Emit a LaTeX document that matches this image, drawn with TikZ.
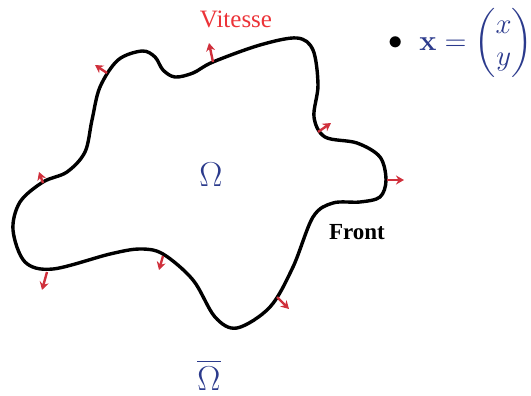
\documentclass[tikz,border=0pt]{standalone}
\usepackage[no-math]{fontspec}
\usepackage{amsmath}
\usepackage{tikz}
\usetikzlibrary{arrows.meta}
\newfontfamily\timesfont{Liberation Serif}
\definecolor{vblue}{HTML}{2B3A8C}
\definecolor{vred}{HTML}{EC3338}
\definecolor{vdark}{HTML}{D0303C}

\begin{document}
\begin{tikzpicture}[x=0.5pt, y=-0.5pt, every node/.style={inner sep=0pt},
    vel/.style={-{Stealth[length=4pt, width=4.5pt]}, vdark, line width=1.2pt}]
    \useasboundingbox (0,0) rectangle (531,396);

    % Front
    \draw[line width=1.7pt, line join=round] plot[smooth cycle, tension=0.55] coordinates {
        (142,51) (155,57) (163,70) (175,77) (193,73) (213,62) (260,45)
        (297,38) (313,50) (318,85) (314,117) (325,137) (357,143)
        (380,157) (386,180) (380,197) (360,202) (333,203) (313,217)
        (293,267) (270,307) (237,328) (215,317) (193,280) (163,254)
        (140,249) (110,254) (53,269) (25,262) (13,230) (20,202)
        (43,182) (67,172) (85,152) (92,120) (100,87) (118,60)};

    % Vitesses
    \draw[vel] (213,62) -- (209,43);
    \draw[vel] (107,73) -- (95,65);
    \draw[vel] (43,183) -- (39,172);
    \draw[vel] (47,272) -- (42,290);
    \draw[vel] (163,256) -- (159,270);
    \draw[vel] (277,297) -- (289,309);
    \draw[vel] (387,180) -- (404,180);
    \draw[vel] (318,132) -- (331,123);

    % Textes
    \node[anchor=base, vred, font=\timesfont\fontsize{12.5}{14}\selectfont] (vitesse) at (236,27) {Vitesse};
    \node[anchor=base, font=\timesfont\bfseries\fontsize{11.5}{13}\selectfont] (front) at (357,239) {Front};
    \node[anchor=base, vblue, font=\fontsize{17.5}{20}\selectfont] (omega) at (211,186) {$\Omega$};
    \node[anchor=base, vblue, font=\fontsize{17.5}{20}\selectfont] (omegabar) at (209,390) {$\overline{\Omega}$};

    % Position
    \node[font=\fontsize{14}{16}\selectfont] (bullet) at (396,43) {$\bullet$};
    \node[anchor=west, vblue, font=\fontsize{14}{16}\selectfont] (pos) at (419,43)
        {$\mathbf{x} = \begin{pmatrix} x\\ y \end{pmatrix}$};
\end{tikzpicture}
\end{document}
